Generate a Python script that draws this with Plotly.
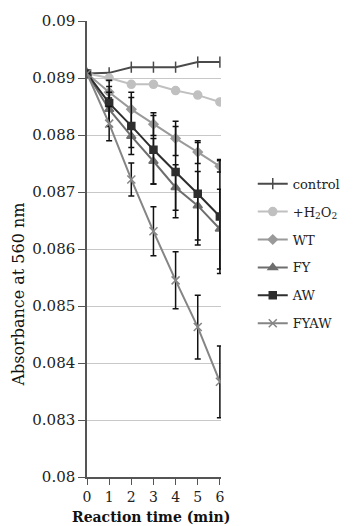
import plotly.graph_objects as go

time_min = [0, 1, 2, 3, 4, 5, 6]

control = [0.08908, 0.08909, 0.08919, 0.08919, 0.08919, 0.08928, 0.08928]
h2o2 = [0.08908, 0.08900, 0.08889, 0.08889, 0.08878, 0.08870, 0.08858]
wt = [0.08908, 0.08875, 0.08845, 0.08819, 0.08794, 0.08770, 0.08745]
wt_err = [0, 0.00010, 0.00030, 0.00020, 0.00030, 0.00020, 0.00010]
fy = [0.08908, 0.08845, 0.08798, 0.08754, 0.08708, 0.08676, 0.08635]
fy_err = [0, 0.00030, 0.00020, 0.00040, 0.00040, 0.00060, 0.00070]
aw = [0.08908, 0.08856, 0.08816, 0.08774, 0.08735, 0.08697, 0.08657]
aw_err = [0, 0.00040, 0.00050, 0.00060, 0.00080, 0.00090, 0.00100]
fyaw = [0.08908, 0.08820, 0.08722, 0.08631, 0.08545, 0.08463, 0.08367]
fyaw_err = [0, 0.00030, 0.00029, 0.00043, 0.00050, 0.00056, 0.00063]

y_tickvals = [0.082, 0.083, 0.084, 0.085, 0.086, 0.087, 0.088, 0.089, 0.090]
y_ticktext = ["0.08", "0.083", "0.084", "0.085", "0.086", "0.087", "0.088", "0.089", "0.09"]

FONT = "DejaVu Serif"

series = [
    ("control", control, None, "#4a4a4a", "line-ns-open", 8),
    ("+H<sub>2</sub>O<sub>2</sub>", h2o2, None, "#c0c0c0", "circle", 8),
    ("WT", wt, wt_err, "#9a9a9a", "diamond", 7),
    ("FY", fy, fy_err, "#6e6e6e", "triangle-up", 8),
    ("AW", aw, aw_err, "#2e2e2e", "square", 7),
    ("FYAW", fyaw, fyaw_err, "#858585", "x-thin-open", 8),
]

fig = go.Figure()
for i, (name, vals, err, color, sym, size) in enumerate(series):
    fig.add_trace(go.Scatter(
        x=time_min, y=vals, name=name, mode="lines+markers",
        legendgroup=f"g{i}",
        line=dict(color=color, width=2),
        marker=dict(symbol=sym, size=size, color=color,
                    line=dict(color=color, width=1.5)),
        error_y=(dict(type="data", array=err, visible=True, color="#111111",
                      thickness=1.5, width=3) if err else None),
    ))

fig.update_layout(
    width=345, height=518,
    margin=dict(l=79, r=132, t=13, b=49, autoexpand=False),
    paper_bgcolor="white", plot_bgcolor="white",
    font=dict(family=FONT, size=13, color="#222222"),
    showlegend=True,
    legend=dict(x=1.237, y=0.676, xanchor="left", yanchor="top",
                font=dict(family=FONT, size=13, color="#222222"),
                tracegroupgap=8, itemwidth=30, bgcolor="rgba(0,0,0,0)"),
    xaxis=dict(range=[0, 6.05], tickvals=time_min, ticks="outside", ticklen=6,
               tickcolor="#555555", showline=True, linecolor="#555555", linewidth=1.5,
               showgrid=False, zeroline=False,
               tickfont=dict(family=FONT, size=14)),
    yaxis=dict(range=[0.082, 0.090], tickvals=y_tickvals, ticktext=y_ticktext,
               ticks="outside", ticklen=7, tickcolor="#555555",
               showline=True, linecolor="#555555", linewidth=1.5,
               showgrid=True, gridcolor="#c8c8c8", gridwidth=1, zeroline=False,
               tickfont=dict(family=FONT, size=15)),
    annotations=[
        dict(text="Absorbance at 560 nm", textangle=-90, showarrow=False,
             xref="paper", yref="paper", x=0, y=0.40, xshift=-68,
             xanchor="center", yanchor="middle",
             font=dict(family=FONT, size=16, color="#111111")),
        dict(text="<b>Reaction time (min)</b>", showarrow=False,
             xref="paper", yref="paper", x=0.48, y=0, yshift=-40,
             xanchor="center", yanchor="middle",
             font=dict(family=FONT, size=14, color="#111111")),
    ],
)

fig.write_html("out.html")
